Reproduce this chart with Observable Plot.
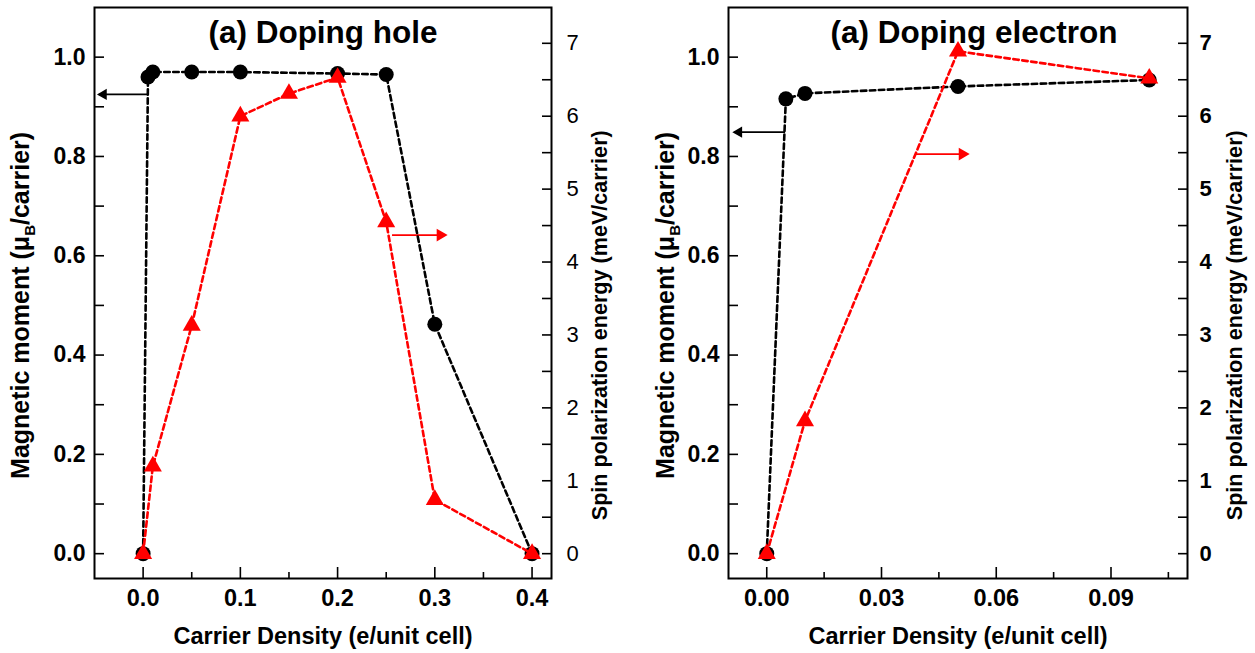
<!DOCTYPE html>
<html><head><meta charset="utf-8">
<script src="https://cdn.jsdelivr.net/npm/d3@7"></script>
<script src="https://cdn.jsdelivr.net/npm/@observablehq/plot@0.6"></script>
<style>
body{margin:0;background:#fff;font-family:"Liberation Sans",Arial,sans-serif;color:#000;}
#wrap{display:flex;width:1255px;height:653px;overflow:hidden;}
</style></head><body><div id="wrap"></div>
<script>
// ratio: spin polarization energy units per magnetic-moment unit (right axis vs left axis)
const K = 6.81;

// ---- Panel (a) Doping hole ----
const holeMomentX = [0, 0.005, 0.01, 0.05, 0.1, 0.2, 0.25, 0.3, 0.4];
const holeMoment  = [0, 0.96, 0.97, 0.97, 0.97, 0.967, 0.965, 0.462, 0];
const holeEnergyX = [0, 0.01, 0.05, 0.1, 0.15, 0.2, 0.25, 0.3, 0.4];
const holeEnergy  = [0, 1.2, 3.13, 6.0, 6.31, 6.53, 4.55, 0.74, 0];
const holeXMajor = [0, 0.1, 0.2, 0.3, 0.4];
const holeXMinor = [0.05, 0.15, 0.25, 0.35];

// ---- Panel (a) Doping electron ----
const elecMomentX = [0, 0.005, 0.01, 0.05, 0.1];
const elecMoment  = [0, 0.916, 0.927, 0.941, 0.954];
const elecEnergyX = [0, 0.01, 0.05, 0.1];
const elecEnergy  = [0, 1.82, 6.89, 6.52];
const elecXMajor = [0, 0.03, 0.06, 0.09];
const elecXMinor = [0.015, 0.045, 0.075, 0.105];

// shared axis ticks
const momentMajor = [0, 0.2, 0.4, 0.6, 0.8, 1.0];
const momentMinor = [0.1, 0.3, 0.5, 0.7, 0.9];
const energyMajor = [0, 1, 2, 3, 4, 5, 6, 7];
const energyMinor = [0.5, 1.5, 2.5, 3.5, 4.5, 5.5, 6.5];

// text
const titles = ["(a) Doping hole", "(a) Doping electron"];
const xLabel = "Carrier Density (e/unit cell)";
const yLeftLabel = "Magnetic moment (μB/carrier)";
const yRightLabel = "Spin polarization energy (meV/carrier)";

// annotation arrows: [x start, x tip, y]  (black: moment units, red: energy units)
const holeBlackArrow = [0.005, -0.0455, 0.925];
const holeRedArrow   = [0.256, 0.311, 4.37];
const elecBlackArrow = [0.0048, -0.0085, 0.849];
const elecRedArrow   = [0.039, 0.0525, 5.48];

const FONT = "'Liberation Sans', Arial, sans-serif";
const RED = "#ff0000";

function arrowMarks(a, color, dir, scaleY, headR) {
  const row = [{x1: a[0], x2: a[1], y: a[2] * scaleY}];
  return [
    Plot.link(row, {x1: "x1", x2: "x2", y1: "y", y2: "y", stroke: color, strokeWidth: 1.8}),
    Plot.dot(row, {x: "x2", y: "y", symbol: "triangle", r: headR, fill: color, stroke: "none",
      rotate: dir > 0 ? 90 : -90, dx: dir > 0 ? -headR * 1.1 : headR * 1.1})
  ];
}

function panel(cfg) {
  const mom = cfg.mX.map((x, i) => ({x, y: cfg.mY[i]}));
  const en = cfg.eX.map((x, i) => ({x, y: cfg.eY[i] / K}));
  const plot = Plot.plot({
    width: cfg.width, height: 653,
    marginLeft: cfg.ml, marginRight: cfg.mr, marginTop: 7, marginBottom: 75,
    x: {domain: cfg.xDomain, axis: null},
    y: {domain: [-0.05, 1.1], axis: null},
    style: {fontFamily: FONT, background: "white", color: "black", overflow: "visible"},
    marks: [
      // left axis
      Plot.axisY(momentMajor, {anchor: "left", tickSize: -10, tickPadding: 19, strokeWidth: 1.6,
        tickFormat: d3.format(".1f"), fontSize: 23, fontWeight: "bold", label: null}),
      Plot.axisY(momentMinor, {anchor: "left", tickSize: -10, strokeWidth: 1.6, tickFormat: () => "", label: null}),
      // right axis
      Plot.axisY(energyMajor.map(v => v / K), {anchor: "right", tickSize: -10, tickPadding: cfg.rightPad, strokeWidth: 1.6,
        tickFormat: d => String(Math.round(d * K)), fontSize: 22, fontWeight: cfg.rightWeight, label: null}),
      Plot.axisY(energyMinor.map(v => v / K), {anchor: "right", tickSize: -10, strokeWidth: 1.6, tickFormat: () => "", label: null}),
      // bottom axis
      Plot.axisX(cfg.xMajor, {anchor: "bottom", tickSize: -11, tickPadding: 22, strokeWidth: 1.6,
        tickFormat: d3.format(cfg.xFmt), fontSize: 23.5, fontWeight: "bold", label: null}),
      Plot.axisX(cfg.xMinor, {anchor: "bottom", tickSize: -6, strokeWidth: 1.6, tickFormat: () => "", label: null}),
      Plot.frame({stroke: "black", strokeWidth: 2}),
      // labels
      Plot.text([{t: cfg.title}], {text: "t", frameAnchor: "top", dy: 25, dx: cfg.titleDx,
        textAnchor: "middle", lineAnchor: "middle", fontSize: 31.5, fontWeight: "bold"}),
      Plot.text([{t: xLabel}], {text: "t", frameAnchor: "bottom", dy: 58,
        textAnchor: "middle", lineAnchor: "middle", fontSize: 23.5, fontWeight: "bold"}),
      Plot.text([{t: yLeftLabel, y: 0.5}], {text: "t", y: "y", frameAnchor: "left", dx: cfg.leftLabelDx, rotate: -90,
        textAnchor: "middle", lineAnchor: "middle", fontSize: 25, fontWeight: "bold"}),
      Plot.text([{t: yRightLabel, y: 0.46}], {text: "t", y: "y", frameAnchor: "right", dx: cfg.rightLabelDx, rotate: -90,
        textAnchor: "middle", lineAnchor: "middle", fontSize: 21.6, fontWeight: "bold"}),
      // arrows
      ...arrowMarks(cfg.blackArrow, "black", -1, 1, 4.2),
      ...arrowMarks(cfg.redArrow, RED, 1, 1 / K, 4.7),
      // moment series
      Plot.line(mom, {x: "x", y: "y", stroke: "black", strokeWidth: 2.6, strokeDasharray: "5.5,3.5"}),
      Plot.dot(mom, {x: "x", y: "y", r: 7.5, fill: "black", stroke: "none"}),
      // energy series
      Plot.line(en, {x: "x", y: "y", stroke: RED, strokeWidth: 2.6, strokeDasharray: "5.5,3.5"}),
      Plot.dot(en, {x: "x", y: "y", symbol: "triangle", r: 6.7, fill: RED, stroke: "none"})
    ]
  });
  // subscript B in μB
  d3.select(plot).selectAll("text").filter(function () { return this.textContent.includes("μB"); }).each(function () {
    const parts = this.textContent.split("μB");
    const el = d3.select(this);
    el.text("");
    el.append("tspan").text(parts[0] + "μ");
    el.append("tspan").attr("font-size", "15").attr("dy", "6").text("B");
    el.append("tspan").attr("dy", "-6").text(parts[1]);
  });
  return plot;
}

const wrap = document.getElementById("wrap");
wrap.appendChild(panel({
  width: 627, ml: 94, mr: 76, xDomain: [-0.05, 0.42], xMajor: holeXMajor, xMinor: holeXMinor, xFmt: ".1f",
  mX: holeMomentX, mY: holeMoment, eX: holeEnergyX, eY: holeEnergy,
  title: titles[0], titleDx: 0, rightPad: 25, rightWeight: "normal",
  leftLabelDx: -74, rightLabelDx: 49,
  blackArrow: holeBlackArrow, redArrow: holeRedArrow
}));
wrap.appendChild(panel({
  width: 628, ml: 101, mr: 68, xDomain: [-0.01, 0.11], xMajor: elecXMajor, xMinor: elecXMinor, xFmt: ".2f",
  mX: elecMomentX, mY: elecMoment, eX: elecEnergyX, eY: elecEnergy,
  title: titles[1], titleDx: 16, rightPad: 22, rightWeight: "bold",
  leftLabelDx: -63, rightLabelDx: 48,
  blackArrow: elecBlackArrow, redArrow: elecRedArrow
}));
</script>
</body></html>
